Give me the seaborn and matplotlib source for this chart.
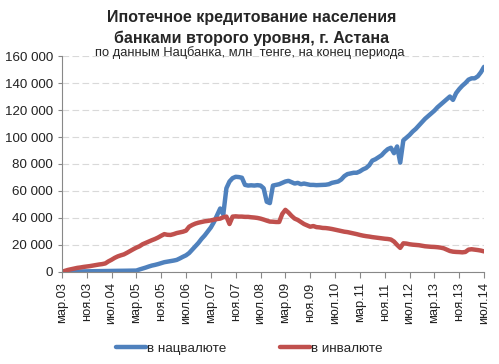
import numpy as np
import pandas as pd
import matplotlib
matplotlib.use("Agg")
import matplotlib.pyplot as plt
import seaborn as sns
from matplotlib.ticker import FuncFormatter

# --- data: monthly, mar.03 .. jul.14 (137 months), mln tenge ---
national = [
    0, 100, 150, 200, 250, 300, 350, 400, 450, 500, 500, 550,
    600, 600, 650, 700, 700, 750, 800, 800, 850, 900, 950, 1000,
    1000, 1800, 2500, 3200, 4000, 4700, 5200, 5800, 6500, 7200, 7600, 8000,
    8400, 8900, 10000, 11200, 12300, 14000, 16500, 19000, 21500, 24500, 27000, 30000,
    33000, 37000, 42000, 47000, 42500, 62000, 67000, 69500, 70500, 70300, 69800, 64500,
    64000, 64200, 64000, 64300, 64000, 62000, 52000, 51000, 64000, 64500, 65000, 66000,
    67000, 67500, 66500, 65500, 66000, 65000, 65500, 65000, 64500, 64500, 64300, 64400,
    64500, 64600, 65000, 66000, 66500, 67000, 68500, 71000, 72500, 73000, 73500, 73500,
    74500, 76000, 77000, 79000, 82500, 83500, 85000, 86500, 89000, 91000, 92000, 88000,
    93000, 81000, 97500, 99500, 101500, 104000, 106000, 108500, 111000, 113500, 115500, 117500,
    119500, 122000, 124000, 126000, 128000, 130000, 127500, 132500, 135500, 138000, 140000, 142500,
    143500, 143500, 145000, 148000, 152000,
]
foreign = [
    0, 800, 1500, 2000, 2500, 3000, 3300, 3700, 4000, 4300, 4700, 5100,
    5500, 5800, 6300, 7800, 9000, 10400, 11500, 12300, 13000, 14200, 15500, 16800,
    18000, 19000, 20500, 21500, 22500, 23500, 24400, 25500, 26800, 28000, 27500, 27400,
    28000, 28800, 29300, 29800, 30600, 33500, 34800, 35800, 36500, 37000, 37500, 37800,
    38200, 38700, 39200, 39500, 40500, 41000, 35500, 41000, 41200, 41000, 41000, 40800,
    40800, 40500, 40300, 40000, 39500, 38800, 38000, 37300, 37200, 37000, 37000, 43000,
    46000, 44000, 41500, 39500, 38500, 37000, 35500, 34500, 33500, 34000, 33200, 33000,
    32600, 32500, 32200, 31800, 31300, 30800, 30300, 29800, 29500, 29000, 28500, 28000,
    27400, 26900, 26500, 26200, 25800, 25500, 25200, 24900, 24600, 24400, 24000, 22500,
    20000, 17800, 21200, 21000, 20500, 20200, 20000, 19800, 19400, 19000, 18800, 18600,
    18500, 18300, 18000, 17500, 16500, 15500, 15000, 14800, 14700, 14500, 14800, 16500,
    16800, 16500, 16200, 15800, 15200,
]
tick_labels = ["мар.03", "ноя.03", "июл.04", "мар.05", "ноя.05", "июл.06",
               "мар.07", "ноя.07", "июл.08", "мар.09", "ноя.09", "июл.10",
               "мар.11", "ноя.11", "июл.12", "мар.13", "ноя.13", "июл.14"]
series_names = ["в нацвалюте", "в инвалюте"]

month = np.arange(len(national))
df = pd.DataFrame({"month": np.concatenate([month, month]),
                   "value": national + foreign,
                   "series": [series_names[0]] * len(national) + [series_names[1]] * len(foreign)})

sns.set_style("white")
plt.rcParams["font.family"] = ["Liberation Sans", "DejaVu Sans"]

fig = plt.figure(figsize=(4.99, 3.64), dpi=100)
ax = fig.add_axes([0.124, 0.253, 0.846, 0.593])

sns.lineplot(data=df, x="month", y="value", hue="series",
             palette=["#4F81BD", "#C0504D"], linewidth=3.2, ax=ax, legend=False)

ax.set_xlim(0, len(national) - 1)
ax.set_ylim(0, 160000)
ax.set_yticks(np.arange(0, 160001, 20000))
ax.yaxis.set_major_formatter(FuncFormatter(lambda v, p: f"{int(v):,}".replace(",", " ")))
ax.set_xticks(np.arange(0, len(national), 8))
ax.set_xticklabels(tick_labels, rotation=90)
ax.tick_params(axis="x", labelsize=9.3, colors="#222222", length=4, direction="out", bottom=True)
ax.tick_params(axis="y", labelsize=9.6, colors="#222222", length=3, direction="out", left=True)
ax.tick_params(axis="both", color="#888888")
ax.set_xlabel("")
ax.set_ylabel("")

ax.grid(axis="y", linestyle=(0, (6, 3)), color="#d9d9d9", linewidth=0.8)
for s in ["top", "right"]:
    ax.spines[s].set_visible(False)
for s in ["left", "bottom"]:
    ax.spines[s].set_color("#888888")
    ax.spines[s].set_linewidth(0.8)

fig.text(0.505, 0.951, "Ипотечное кредитование населения", ha="center", va="center",
         fontsize=11.5, fontweight="bold")
fig.text(0.505, 0.896, "банками второго уровня, г. Астана", ha="center", va="center",
         fontsize=11.5, fontweight="bold")
fig.text(0.5, 0.855, "по данным Нацбанка, млн  тенге, на конец периода", ha="center",
         va="center", fontsize=9.3)

handles = [plt.Line2D([], [], color="#4F81BD", linewidth=3.2),
           plt.Line2D([], [], color="#C0504D", linewidth=3.2)]
fig.legend(handles, series_names, loc="center", bbox_to_anchor=(0.5, 0.043), ncol=2,
           frameon=False, fontsize=9.7, handlelength=2.2, handletextpad=0.1, columnspacing=4)

fig.savefig("out.png", dpi=100)
